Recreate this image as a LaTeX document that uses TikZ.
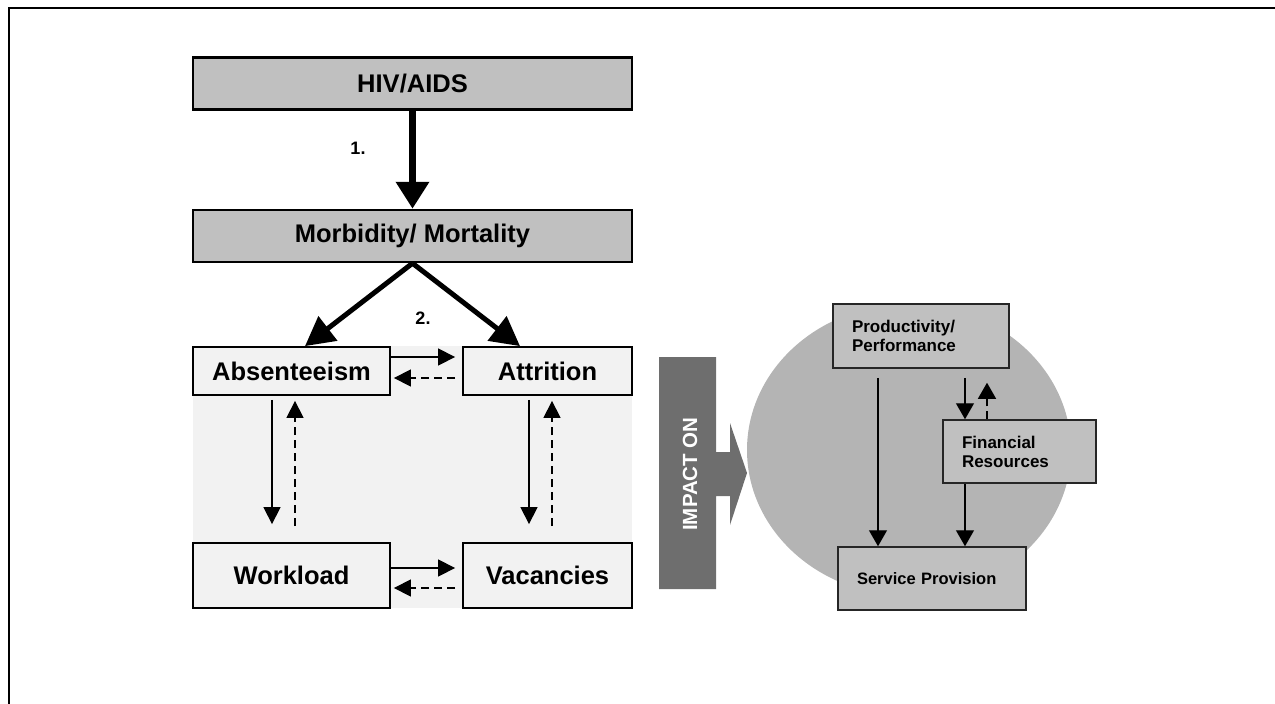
\documentclass[tikz,border=0pt]{standalone}
\usepackage{fontspec}
\setmainfont{Liberation Sans}
\usetikzlibrary{arrows.meta}
\definecolor{boxgray}{HTML}{C0C0C0}
\definecolor{panelgray}{HTML}{F2F2F2}
\definecolor{circgray}{HTML}{B4B4B4}
\definecolor{impactgray}{HTML}{6E6E6E}
\tikzset{
  bigbox/.style={draw, line width=2.5pt, fill=boxgray, minimum width=439pt, minimum height=52pt, inner sep=0pt, font=\fontsize{25.5}{29}\selectfont\bfseries},
  smallbox/.style={draw, line width=1.8pt, fill=panelgray, inner sep=0pt, font=\fontsize{25.5}{29}\selectfont\bfseries},
  rbox/.style={draw=black!85, line width=1.5pt, fill=boxgray, align=left, inner xsep=19pt, inner ysep=0pt, font=\fontsize{17}{19}\selectfont\bfseries},
  numlabel/.style={font=\fontsize{18}{20}\selectfont\bfseries, inner sep=0pt},
  bigarrow/.style={line width=7pt, -{Triangle[length=27pt,width=32pt]}},
  diagarrow/.style={line width=5pt, -{Triangle[length=29pt,width=30pt]}},
  thinarrow/.style={line width=1.3pt, -{Triangle[length=17pt,width=17pt]}},
  dasharrow/.style={thinarrow, dash pattern=on 8pt off 5pt},
  rarrow/.style={line width=1.3pt, -{Triangle[length=16pt,width=18pt]}},
  rdasharrow/.style={rarrow, dash pattern=on 8pt off 5pt},
}
\begin{document}
\begin{tikzpicture}[x=1pt,y=-1pt]
\useasboundingbox (0,0) rectangle (1275,704);
% frame
\draw[line width=2pt] (8.5,704) -- (8.5,7.5) -- (1275,7.5);

% left part
\fill[panelgray] (193,346) rectangle (632,608);
\node[bigbox] (hiv) at (412.5,83.5) {HIV/AIDS};
\node[bigbox] (morb) at (412.5,236) {Morbidity/ Mortality};
\node[smallbox, minimum width=197pt, minimum height=48pt] (abs) at (291.5,371) {Absenteeism};
\node[smallbox, minimum width=169pt, minimum height=48pt] (att) at (547.5,371) {Attrition};
\node[smallbox, minimum width=197pt, minimum height=65pt] (work) at (291.5,575.5) {Workload};
\node[smallbox, minimum width=169pt, minimum height=65pt] (vac) at (547.5,575.5) {Vacancies};

\draw[bigarrow] (hiv.south) -- (morb.north);
\node[numlabel] (n1) at (358,148) {1.};
\draw[diagarrow] (morb.south) -- ([xshift=13.5pt]abs.north);
\draw[diagarrow] (morb.south) -- ([xshift=-27.5pt]att.north);
\node[numlabel] (n2) at (423,318) {2.};

\draw[thinarrow] ([yshift=14pt]abs.east) -- ([yshift=14pt,xshift=-7pt]att.west);
\draw[dasharrow] ([yshift=-7pt,xshift=-7pt]att.west) -- ([yshift=-7pt,xshift=3pt]abs.east);
\draw[thinarrow] ([yshift=7.5pt]work.east) -- ([yshift=7.5pt,xshift=-7pt]vac.west);
\draw[dasharrow] ([yshift=-12.5pt,xshift=-7pt]vac.west) -- ([yshift=-12.5pt,xshift=3pt]work.east);

\draw[thinarrow] ([xshift=-19.5pt,yshift=-4pt]abs.south) -- ([xshift=-19.5pt,yshift=18pt]work.north);
\draw[dasharrow] ([xshift=3.5pt,yshift=16pt]work.north) -- ([xshift=3.5pt,yshift=-5pt]abs.south);
\draw[thinarrow] ([xshift=-18.5pt,yshift=-4pt]att.south) -- ([xshift=-18.5pt,yshift=18pt]vac.north);
\draw[dasharrow] ([xshift=4.5pt,yshift=16pt]vac.north) -- ([xshift=4.5pt,yshift=-5pt]att.south);

% right part
\fill[circgray] (909,450) ellipse [x radius=162, y radius=146];
\fill[impactgray] (659,357) -- (716,357) -- (716,452) -- (730,452) -- (730,423) -- (747,473) -- (730,525) -- (730,496) -- (716,496) -- (716,589) -- (659,589) -- cycle;
\node[rotate=90, text=white, font=\fontsize{20.5}{22}\selectfont\bfseries, inner sep=0pt] (impact) at (690,474) {IMPACT ON};

\node[rbox, text width=138pt, minimum height=64pt] (prod) at (921,336) {Productivity/\\Performance};
\node[rbox, text width=115pt, minimum height=63pt] (fin) at (1019.5,451.5) {Financial\\Resources};
\node[rbox, text width=150pt, minimum height=63pt, font=\fontsize{16.5}{19}\selectfont\bfseries] (serv) at (932,578.5) {Service Provision};

\draw[rarrow] ([xshift=-43pt,yshift=-9pt]prod.south) -- ([xshift=-54pt]serv.north);
\draw[rarrow] ([xshift=44pt,yshift=-9pt]prod.south) -- ([xshift=-54.5pt]fin.north);
\draw[rdasharrow] ([xshift=-32.5pt]fin.north) -- ([xshift=66pt,yshift=-14pt]prod.south);
\draw[rarrow] ([xshift=-54.5pt]fin.south) -- ([xshift=33pt]serv.north);
\end{tikzpicture}
\end{document}
